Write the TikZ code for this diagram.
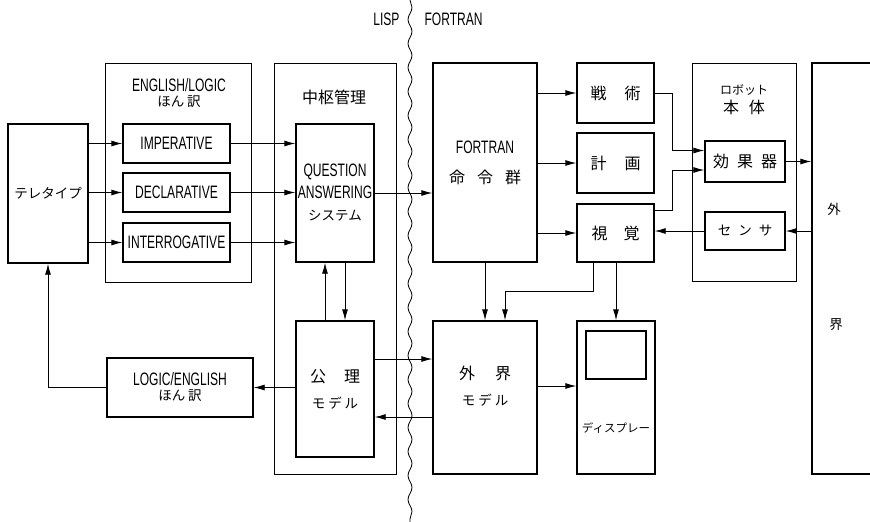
\documentclass[tikz,border=0pt]{standalone}
\usepackage{fontspec}
\setmainfont{Noto Sans CJK JP}
\newfontfamily\eng[FakeStretch=0.67]{Liberation Sans}
\usetikzlibrary{arrows.meta,decorations.pathmorphing}
\newcommand{\entxt}[1]{{\fontsize{18}{20}\selectfont\eng #1}}
\newcommand{\kana}[1]{{\fontsize{13.5}{15}\selectfont #1}}

\begin{document}
\begin{tikzpicture}[x=1pt,y=-1pt,font=\fontsize{16}{18}\selectfont,
  box/.style={draw,line width=1.4pt,inner sep=0pt,align=center},
  grp/.style={draw,line width=0.9pt,inner sep=0pt},
  arr/.style={line width=0.9pt,-{Latex[length=11pt,width=6pt]}},
  ln/.style={line width=0.9pt}]
  \useasboundingbox (0,0) rectangle (870,522);
  % groups
  \node[grp,minimum width=146,minimum height=219] (grpel) at (178,172.5) {};
  \node[grp,minimum width=122,minimum height=411] (grpcm) at (335,268.5) {};
  \node[grp,minimum width=104,minimum height=218] (grprb) at (744,172) {};
  \node[box,minimum width=88,minimum height=411] (world) at (856,268.5) {};
  \node[align=center] (eltitle) at (179,93) {\entxt{ENGLISH/LOGIC}\\[-3pt]\kana{ほん\hspace{3pt}訳}};
  \node (cmtitle) at (334,97) {中枢管理};
  \node[align=center] (rbtitle) at (744,100) {{\fontsize{12}{14}\selectfont ロボット}\\[1pt]本\hspace{10pt}体};
  \node (wtop) at (834,209) {\kana{外}};
  \node (wbot) at (836,325) {\kana{界}};
  % boxes
  \node[box,minimum width=80,minimum height=139] (tele) at (48,193.5) {\kana{テレタイプ}};
  \node[box,minimum width=107,minimum height=39] (imp) at (176.5,143.5) {\entxt{IMPERATIVE}};
  \node[box,minimum width=107,minimum height=39] (dec) at (176.5,192.5) {\entxt{DECLARATIVE}};
  \node[box,minimum width=107,minimum height=39] (intr) at (176.5,242.5) {\entxt{INTERROGATIVE}};
  \node[box,minimum width=78,minimum height=138] (qa) at (335,193) {\entxt{QUESTION}\\[4pt]\entxt{ANSWERING}\\[4pt]\kana{システム}};
  \node[box,minimum width=78,minimum height=136] (axm) at (335,389) {公\hspace{18pt}理\\[8pt]\kana{モ\hspace{3pt}デ\hspace{3pt}ル}};
  \node[box,minimum width=146,minimum height=59] (le) at (180,387.5) {\entxt{LOGIC/ENGLISH}\\[-3pt]\kana{ほん\hspace{3pt}訳}};
  \node[box,minimum width=104,minimum height=199] (fort) at (485,162.5) {\entxt{FORTRAN}\\[12pt]命\hspace{12pt}令\hspace{12pt}群};
  \node[box,minimum width=104,minimum height=153] (wm) at (485,397.5) {};
  \node[align=center] (wmtext) at (485,386) {外\hspace{20pt}界\\[8pt]\kana{モ\hspace{3pt}デ\hspace{3pt}ル}};
  \node[box,minimum width=77,minimum height=60] (tac) at (615.5,93) {戦\hspace{18pt}術};
  \node[box,minimum width=77,minimum height=60] (plan) at (615.5,163) {計\hspace{18pt}画};
  \node[box,minimum width=77,minimum height=58] (vis) at (615.5,233) {視\hspace{16pt}覚};
  \node[box,minimum width=78,minimum height=153] (disp) at (616,397.5) {};
  \node[draw,line width=1.2pt,minimum width=60,minimum height=48] (screen) at (616,355) {};
  \node (disptext) at (616,428) {\fontsize{11.5}{13}\selectfont ディスプレー};
  \node[box,minimum width=80,minimum height=41] (eff) at (745,161.5) {効\hspace{8pt}果\hspace{8pt}器};
  \node[box,minimum width=80,minimum height=38] (sen) at (745,231) {\kana{セ\hspace{7pt}ン\hspace{7pt}サ}};
  % LISP / FORTRAN
  \coordinate (cuttop) at (410,0);
  \coordinate (cutbot) at (410,522);
  \draw[line width=0.8pt,decorate,decoration={snake,amplitude=2pt,segment length=24pt}] (cuttop) -- (cutbot);
  \node[anchor=east] (lisp) at (403,19) {\entxt{LISP}};
  \node[anchor=west] (fortran) at (421,19) {\entxt{FORTRAN}};
  % connectors
  \foreach \b in {imp,dec,intr}{
    \draw[arr] (tele.east |- \b.west) -- (\b.west);
    \draw[arr] (\b.east) -- (\b.east -| qa.west);
  }
  \draw[arr] (qa.east) -- (qa.east -| fort.west);
  \foreach \b in {tac,plan,vis}{\draw[arr] (fort.east |- \b.west) -- (\b.west);}
  \draw[arr] (tac.east) -- ++(18,0) |- ([yshift=11pt]eff.west);
  \draw[arr] ([yshift=23pt]vis.east) -- ++(18,0) |- ([yshift=-8.5pt]eff.west);
  \draw[arr] (eff.east) -- (eff.east -| world.west);
  \draw[arr] (sen.east -| world.west) -- (sen.east);
  \draw[arr] (sen.west) -- (sen.west -| vis.east);
  \draw[arr] ([xshift=-10pt]axm.north) -- ([xshift=-10pt]axm.north |- qa.south);
  \draw[arr] ([xshift=10pt]qa.south) -- ([xshift=10pt]qa.south |- axm.north);
  \draw[arr] (fort.south) -- (wm.north);
  \draw[arr] ([xshift=-22pt]vis.south) -- ++(0,29) -| ([xshift=20pt]wm.north);
  \draw[arr] (vis.south -| disp.north) -- (disp.north);
  \draw[arr] ([yshift=30pt]axm.east) -- ([yshift=30pt]axm.east -| wm.west);
  \draw[arr] ([yshift=-28pt]axm.east -| wm.west) -- ([yshift=-28pt]axm.east);
  \draw[arr] ([yshift=11.5pt]wm.east) -- ([yshift=11.5pt]wm.east -| disp.west);
  \draw[arr] (le.east -| axm.west) -- (le.east);
  \draw[arr] (le.west) -| (tele.south);
\end{tikzpicture}
\end{document}
